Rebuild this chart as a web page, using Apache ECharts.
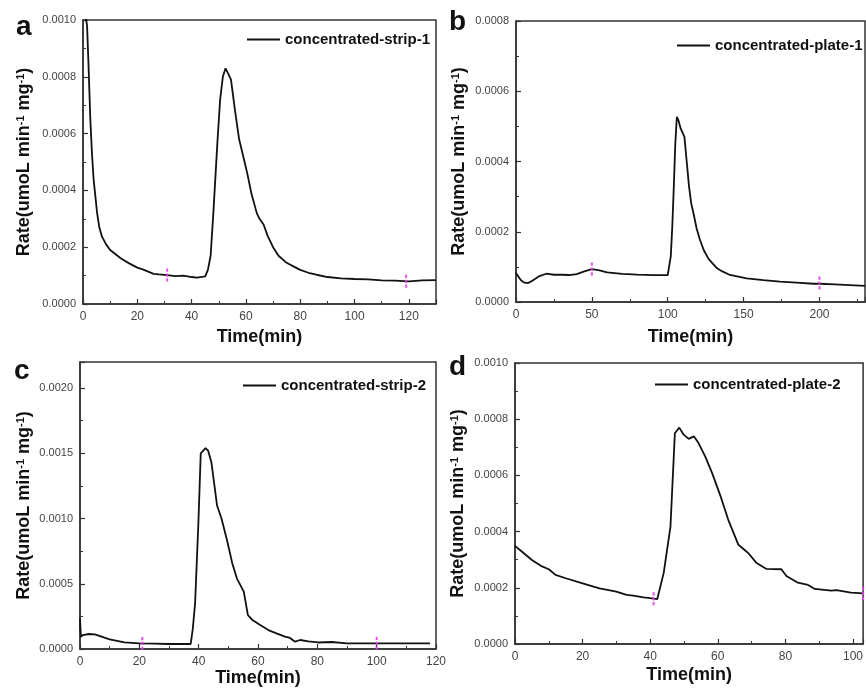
<!DOCTYPE html>
<html><head><meta charset="utf-8">
<script src="https://cdn.jsdelivr.net/npm/echarts@6/dist/echarts.min.js"></script>
<style>html,body{margin:0;padding:0;background:#fff}#c{width:866px;height:695px}</style>
</head><body><div id="c"></div>
<script>
// ---- data ----
const seriesNames = ['concentrated-strip-1','concentrated-plate-1','concentrated-strip-2','concentrated-plate-2'];
const panelLetters = ['a','b','c','d'];

const aTime = [0.8,1.5,2,2.7,3.3,3.9,5.2,6,7,8.5,10,12,14,17,20,22,26,28,31,34,37,40,42,45,46,47,48,49.5,50.5,51.5,52.5,53.5,54.5,56,57.5,59,60.5,62,64,65,66.5,68,70,72,75,78,80,83,86,90,95,100,105,110,115,120,125,130];
const aRate = [0.00102,0.00098,0.00085,0.00065,0.00053,0.00044,0.00032,0.00027,0.000237,0.00021,0.00019,0.000175,0.00016,0.000143,0.000128,0.000122,0.000106,0.000104,0.000102,0.000098,0.0001,0.000095,0.000093,0.000097,0.00012,0.00017,0.00032,0.00057,0.00072,0.0008,0.00083,0.00081,0.00079,0.00068,0.00058,0.00052,0.00046,0.00039,0.00032,0.0003,0.00028,0.00024,0.0002,0.00017,0.000145,0.00013,0.00012,0.00011,0.000103,0.000095,0.00009,0.000088,0.000087,0.000083,0.000082,0.00008,0.000083,0.000084];

const bTime = [0,3,5,8,10,15,20,25,30,35,40,45,50,55,60,70,80,90,100,101,102,103,104,105,106,107,108.5,111,112.5,114,115.5,117,119,121,123.7,127,132.5,136,141,152,163,174,185,196,200,210,220,230];
const bRate = [0.0000824,0.0000634,0.0000559,0.000054,0.0000587,0.0000729,0.0000805,0.0000776,0.0000776,0.0000768,0.0000795,0.0000871,0.0000937,0.00009,0.0000843,0.00008,0.000078,0.0000767,0.0000767,0.0000767,0.00013,0.000215,0.000328,0.000452,0.000527,0.000518,0.000494,0.00047,0.0004,0.00033,0.00028,0.000252,0.00021,0.00018,0.000148,0.000122,0.000096,0.000087,0.000077,0.000067,0.000062,0.000058,0.000055,0.000052,0.000052,0.00005,0.000048,0.000046];

const cTime = [0,0.3,1,3,5,8,10,15,20,25,30,35,37.3,38,38.8,39.9,40.7,42.3,43.2,44.3,46.2,47.7,49.6,51.3,52.9,54.6,55.2,56.6,58,60.2,63.5,66,69.1,70.8,72.5,74.2,77,80.3,84.8,90,100,110,118];
const cRate = [0.000235,0.0000944,0.000107,0.000115,0.000112,0.000089,0.000074,0.000051,0.0000434,0.0000408,0.0000383,0.0000383,0.0000383,0.00015,0.000352,0.000964,0.0015,0.00154,0.00152,0.00143,0.0011,0.001,0.00083,0.00066,0.00054,0.000466,0.00044,0.00026,0.000225,0.000191,0.000145,0.000122,0.0000944,0.000085,0.000056,0.0000689,0.000058,0.00005,0.0000536,0.0000434,0.0000434,0.0000434,0.0000434];

const dTime = [0,2,5,8,10,12,15,20,25,30,33,35,38,40,42.1,44,46,47.3,48.6,49.9,51.4,52.9,54.3,56.3,58.3,60.7,63.1,66.1,69,71.5,74.4,78.8,80.3,83.7,86.7,88.7,93.6,95.1,99.4,103];
const dRate = [0.000349,0.000329,0.000299,0.000276,0.000266,0.000246,0.000234,0.000216,0.000198,0.000186,0.000175,0.000172,0.000166,0.000163,0.00016,0.000253,0.000418,0.00075,0.00077,0.000745,0.00073,0.000739,0.000715,0.000667,0.000609,0.00053,0.000442,0.000353,0.000324,0.000288,0.000267,0.000266,0.000242,0.000218,0.00021,0.000196,0.00019,0.000192,0.000183,0.00018];

// pink marker positions
const aMarkT = [31,119], aMarkR = [0.000102,0.00008];
const bMarkT = [50,200], bMarkR = [0.0000937,0.000054];
const cMarkT = [21,100], cMarkR = [0.000043,0.0000434];
const dMarkT = [41,103], dMarkR = [0.000161,0.00018];

// axis settings
const xMax = [130,230,120,103], xInt = [20,50,20,20];
const yMax = [0.0010,0.0008,0.0022,0.0010], yInt = [0.0002,0.0002,0.0005,0.0002];

// ---- layout ----
const grids = [
  {left:83, top:20, width:353, height:284},
  {left:516, top:21, width:349, height:281},
  {left:80, top:362, width:356, height:287},
  {left:515, top:363, width:350, height:281}
];
const xNameGap = [24,26,17,22];
const yNameGap = [50,48,47,48];
const legendPos = [{left:247,top:32},{left:677,top:38},{left:243,top:378},{left:655,top:377}];
const letterPos = [[16,13],[449,8],[14,357],[449,353]];

const times = [aTime,bTime,cTime,dTime], rates=[aRate,bRate,cRate,dRate];
const mT=[aMarkT,bMarkT,cMarkT,dMarkT], mR=[aMarkR,bMarkR,cMarkR,dMarkR];
const pair=(t,r)=>t.map((v,i)=>[v,r[i]]);

const axisColor='#333';
const font='"Liberation Sans", Arial, sans-serif';
const option={animation:false,backgroundColor:'#fff',textStyle:{fontFamily:font},
  grid:[],xAxis:[],yAxis:[],series:[],legend:[],graphic:[]};

for(let i=0;i<4;i++){
  option.grid.push(Object.assign({show:true,borderColor:axisColor,borderWidth:1.5,containLabel:false},grids[i]));
  option.xAxis.push({type:'value',gridIndex:i,min:0,max:xMax[i],interval:xInt[i],
    name:'Time(min)',nameLocation:'middle',nameGap:xNameGap[i],
    nameTextStyle:{fontSize:18,fontWeight:'bold',color:'#111',fontFamily:font,verticalAlign:'top'},
    axisLine:{lineStyle:{color:axisColor,width:1.5}},
    axisTick:{inside:true,length:5,lineStyle:{color:axisColor,width:1.2}},
    minorTick:{show:true,splitNumber:2,length:3,lineStyle:{color:axisColor,width:1}},
    axisLabel:{fontSize:12,color:'#444',margin:7,fontFamily:font,showMaxLabel:i===2},
    splitLine:{show:false}});
  option.yAxis.push({type:'value',gridIndex:i,min:0,max:yMax[i],interval:yInt[i],
    name:'{t|Rate(umoL min}{s|-1}{t| mg}{s|-1}{t|)}',nameLocation:'middle',nameGap:yNameGap[i],nameRotate:90,
    nameTextStyle:{fontFamily:font,rich:{t:{fontSize:18,fontWeight:'bold',color:'#111',fontFamily:font,verticalAlign:'bottom'},s:{fontSize:11,fontWeight:'bold',color:'#111',fontFamily:font,verticalAlign:'top'}}},
    axisLine:{lineStyle:{color:axisColor,width:1.5}},
    axisTick:{inside:true,length:5,lineStyle:{color:axisColor,width:1.2}},
    minorTick:{show:true,splitNumber:2,length:3,lineStyle:{color:axisColor,width:1}},
    axisLabel:{fontSize:11,color:'#444',margin:7,fontFamily:font,showMaxLabel:i!==2,formatter:v=>v.toFixed(4)},
    splitLine:{show:false}});
  option.series.push({type:'line',name:seriesNames[i],xAxisIndex:i,yAxisIndex:i,data:pair(times[i],rates[i]),
    symbol:'none',showSymbol:false,clip:true,lineStyle:{color:'#111',width:1.8},itemStyle:{color:'#111'}});
  option.series.push({type:'scatter',name:'mark'+i,xAxisIndex:i,yAxisIndex:i,data:pair(mT[i],mR[i]),
    symbol:'path://M0,0h2v3h-2z M0,4.5h2v3h-2z M0,9h2v3h-2z',symbolSize:[2,13],
    itemStyle:{color:'#e040e8',opacity:0.9},z:5});
  option.legend.push(Object.assign({data:[{name:seriesNames[i],icon:'rect'}],itemWidth:33,itemHeight:2,itemGap:0,padding:0,
    textStyle:{fontSize:15,fontWeight:'bold',color:'#111',fontFamily:font},
    selectedMode:false},legendPos[i]));
  option.graphic.push({type:'text',left:letterPos[i][0],top:letterPos[i][1],
    style:{text:panelLetters[i],fontSize:28,fontWeight:'bold',fill:'#111',font:'bold 28px '+font}});
}
const chart=echarts.init(document.getElementById('c'),null,{renderer:'canvas'});
chart.setOption(option);
</script></body></html>
